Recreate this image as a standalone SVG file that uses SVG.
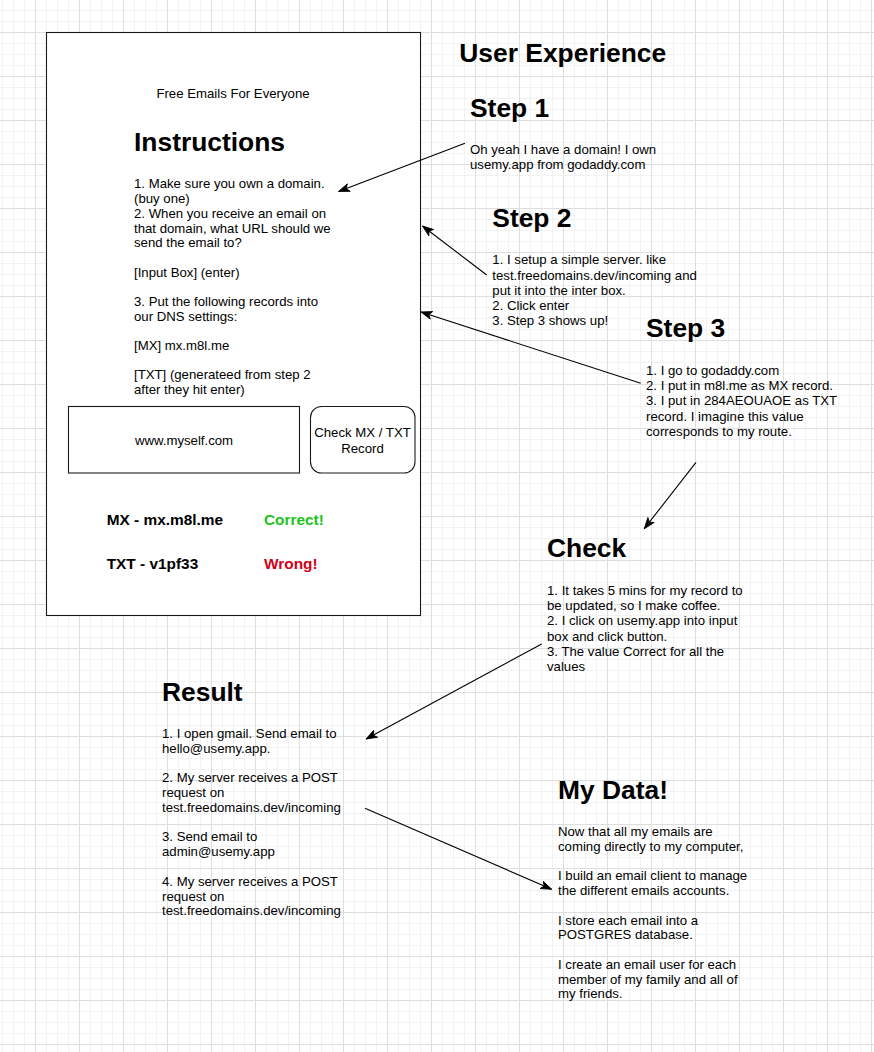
<svg xmlns="http://www.w3.org/2000/svg" width="874" height="1052" viewBox="0 0 874 1052">
<style>
text{font-family:"Liberation Sans",Arial,Helvetica,sans-serif;fill:#000}
.b{font-size:13.2px}
.h{font-size:26.4px;font-weight:bold}
.m{font-size:15.4px;font-weight:bold}
.shape{fill:#fff;stroke:#1a1a1a;stroke-width:1.1}
.edge{fill:none;stroke:#000;stroke-width:1.1}
</style>
<defs>
<pattern id="grid" patternUnits="userSpaceOnUse" x="35" y="32" width="44" height="44">
<path d="M11.5 0V44M22.5 0V44M33.5 0V44M0 11.5H44M0 22.5H44M0 33.5H44" stroke="#f2f2f2" stroke-width="1" fill="none"/>
<path d="M0.5 0V44M0 0.5H44" stroke="#dedede" stroke-width="1" fill="none"/>
</pattern>
<marker id="arr" markerUnits="userSpaceOnUse" viewBox="0 0 12 9" refX="11.5" refY="4.5" markerWidth="12" markerHeight="9" orient="auto">
<path d="M0.5,0.5 L11.5,4.5 L0.5,8.5 L3.3,4.5 Z" fill="#000" stroke="#000" stroke-width="0.8" stroke-linejoin="miter"/>
</marker>
</defs>
<rect width="874" height="1052" fill="#fff"/>
<rect width="874" height="1052" fill="url(#grid)"/>

<g id="app-page">
<rect class="shape" x="46.5" y="32.5" width="374" height="583"/>
<text class="b" x="233" y="98.3" text-anchor="middle">Free Emails For Everyone</text>
<text class="h" x="134" y="150.5">Instructions</text>
<text class="b">
<tspan x="134" y="188.3">1. Make sure you own a domain.</tspan>
<tspan x="134" y="203">(buy one)</tspan>
<tspan x="134" y="217.8">2. When you receive an email on</tspan>
<tspan x="134" y="232.6">that domain, what URL should we</tspan>
<tspan x="134" y="247.4">send the email to?</tspan>
<tspan x="134" y="277">[Input Box] (enter)</tspan>
<tspan x="134" y="306">3. Put the following records into</tspan>
<tspan x="134" y="321">our DNS settings:</tspan>
<tspan x="134" y="350">[MX] mx.m8l.me</tspan>
<tspan x="134" y="379">[TXT] (generateed from step 2</tspan>
<tspan x="134" y="393.5">after they hit enter)</tspan>
</text>
</g>

<g id="input-box">
<rect class="shape" x="68.5" y="406.5" width="231" height="66.5"/>
<text class="b" x="184" y="445" text-anchor="middle">www.myself.com</text>
</g>

<g id="check-button">
<rect class="shape" x="310.5" y="406.5" width="104.5" height="66.5" rx="11" ry="11"/>
<text class="b" text-anchor="middle"><tspan x="362.5" y="437">Check MX / TXT</tspan><tspan x="362.5" y="452.5">Record</tspan></text>
</g>

<g id="mx-result">
<text class="m" x="106.7" y="525">MX - mx.m8l.me</text>
<text class="m" x="264" y="525" style="fill:#1ec31e">Correct!</text>
</g>

<g id="txt-result">
<text class="m" x="106.7" y="569">TXT - v1pf33</text>
<text class="m" x="264" y="569" style="fill:#d00018">Wrong!</text>
</g>

<g id="title">
<text class="h" x="459.3" y="62.3">User Experience</text>
</g>

<g id="step1">
<text class="h" x="470" y="117.3">Step 1</text>
<text class="b"><tspan x="470" y="154.3">Oh yeah I have a domain! I own</tspan><tspan x="470" y="169.3">usemy.app from godaddy.com</tspan></text>
</g>

<g id="step2">
<text class="h" x="492.3" y="227.3">Step 2</text>
<text class="b">
<tspan x="492.3" y="264.3">1. I setup a simple server. like</tspan>
<tspan x="492.3" y="279.5">test.freedomains.dev/incoming and</tspan>
<tspan x="492.3" y="294.7">put it into the inter box.</tspan>
<tspan x="492.3" y="310">2. Click enter</tspan>
<tspan x="492.3" y="325.3">3. Step 3 shows up!</tspan>
</text>
</g>

<g id="step3">
<text class="h" x="646" y="337.3">Step 3</text>
<text class="b">
<tspan x="646" y="375">1. I go to godaddy.com</tspan>
<tspan x="646" y="390">2. I put in m8l.me as MX record.</tspan>
<tspan x="646" y="405.2">3. I put in 284AEOUAOE as TXT</tspan>
<tspan x="646" y="420.5">record. I imagine this value</tspan>
<tspan x="646" y="435.7">corresponds to my route.</tspan>
</text>
</g>

<g id="check">
<text class="h" x="547" y="556.7">Check</text>
<text class="b">
<tspan x="547" y="595">1. It takes 5 mins for my record to</tspan>
<tspan x="547" y="610.2">be updated, so I make coffee.</tspan>
<tspan x="547" y="625.4">2. I click on usemy.app into input</tspan>
<tspan x="547" y="640.6">box and click button.</tspan>
<tspan x="547" y="655.9">3. The value Correct for all the</tspan>
<tspan x="547" y="671.2">values</tspan>
</text>
</g>

<g id="result">
<text class="h" x="162" y="701">Result</text>
<text class="b">
<tspan x="162" y="737.7">1. I open gmail. Send email to</tspan>
<tspan x="162" y="752.5">hello@usemy.app.</tspan>
<tspan x="162" y="782.1">2. My server receives a POST</tspan>
<tspan x="162" y="796.9">request on</tspan>
<tspan x="162" y="811.7">test.freedomains.dev/incoming</tspan>
<tspan x="162" y="841.3">3. Send email to</tspan>
<tspan x="162" y="856.1">admin@usemy.app</tspan>
<tspan x="162" y="885.7">4. My server receives a POST</tspan>
<tspan x="162" y="900.5">request on</tspan>
<tspan x="162" y="915.3">test.freedomains.dev/incoming</tspan>
</text>
</g>

<g id="my-data">
<text class="h" x="558" y="799.3">My Data!</text>
<text class="b">
<tspan x="558" y="836">Now that all my emails are</tspan>
<tspan x="558" y="850.8">coming directly to my computer,</tspan>
<tspan x="558" y="880.3">I build an email client to manage</tspan>
<tspan x="558" y="895">the different emails accounts.</tspan>
<tspan x="558" y="924.5">I store each email into a</tspan>
<tspan x="558" y="939.3">POSTGRES database.</tspan>
<tspan x="558" y="968.8">I create an email user for each</tspan>
<tspan x="558" y="983.5">member of my family and all of</tspan>
<tspan x="558" y="998.3">my friends.</tspan>
</text>
</g>

<g id="connectors">
<path class="edge" d="M465,143.3 L338.5,191.5" marker-end="url(#arr)"/>
<path class="edge" d="M486.7,275 L422.5,226" marker-end="url(#arr)"/>
<path class="edge" d="M640.7,383.3 L421,312" marker-end="url(#arr)"/>
<path class="edge" d="M696,462.3 L644.3,528.7" marker-end="url(#arr)"/>
<path class="edge" d="M541.7,644 L366,739" marker-end="url(#arr)"/>
<path class="edge" d="M365,808.3 L551.7,889.3" marker-end="url(#arr)"/>
</g>
</svg>
